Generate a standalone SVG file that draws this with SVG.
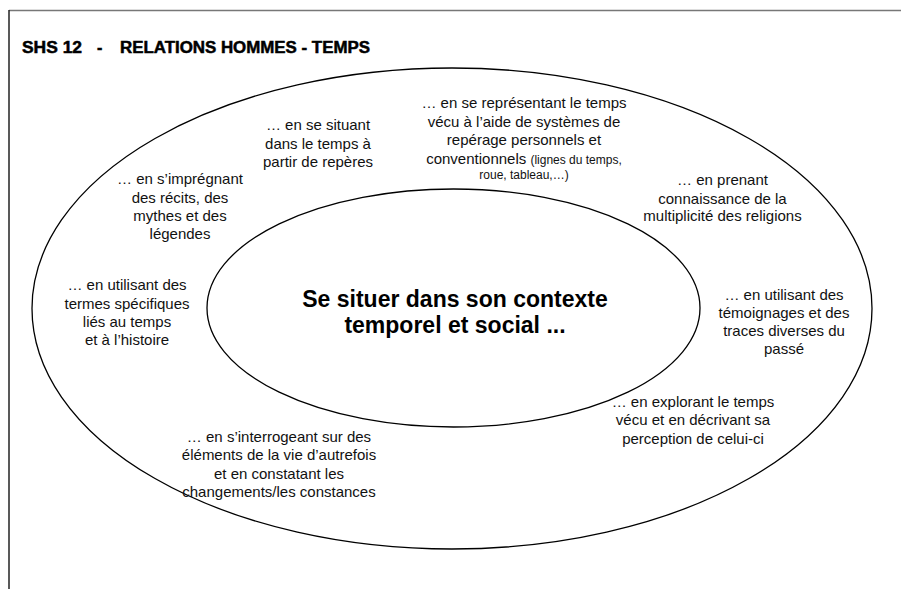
<svg xmlns="http://www.w3.org/2000/svg" width="901" height="589" viewBox="0 0 901 589">
<style>
.t{font-family:"Liberation Sans",Arial,sans-serif;font-size:15px;fill:#111;text-anchor:middle}
.s{font-size:12px}
.title{font-family:"Liberation Sans",Arial,sans-serif;font-size:16px;font-weight:bold;fill:#000;stroke:#000;stroke-width:0.5}
.center{font-family:"Liberation Sans",Arial,sans-serif;font-size:23px;font-weight:bold;fill:#000;text-anchor:middle}
.ell{fill:none;stroke:#000;stroke-width:1.3}
</style>
<rect width="901" height="589" fill="#fff"/>
<g id="frame">
<line x1="9" y1="10.5" x2="901" y2="10.5" stroke="#777" stroke-width="1.5"/>
<line x1="9" y1="10" x2="9" y2="589" stroke="#222" stroke-width="1.5"/>
</g>
<g id="title">
<text class="title" x="22" y="53" textLength="60" lengthAdjust="spacingAndGlyphs">SHS 12</text>
<text class="title" x="97" y="53">-</text>
<text class="title" x="120" y="53" textLength="250" lengthAdjust="spacingAndGlyphs">RELATIONS HOMMES - TEMPS</text>
</g>
<g id="connectors"></g>
<g id="outer">
<ellipse class="ell" cx="452" cy="308.5" rx="420" ry="240.5"/>
</g>
<g id="inner">
<ellipse class="ell" cx="453.5" cy="308" rx="246.5" ry="119"/>
<text class="center" x="455" y="307">Se situer dans son contexte</text>
<text class="center" x="455" y="333">temporel et social ...</text>
</g>
<g id="situant">
<text class="t" x="318" y="130">… en se situant</text>
<text class="t" x="318" y="148.5">dans le temps à</text>
<text class="t" x="318" y="167">partir de repères</text>
</g>
<g id="representant">
<text class="t" x="524" y="108">… en se représentant le temps</text>
<text class="t" x="524" y="126.5">vécu à l’aide de systèmes de</text>
<text class="t" x="524" y="145">repérage personnels et</text>
<text class="t" x="524" y="164">conventionnels <tspan class="s">(lignes du temps,</tspan></text>
<text class="t s" x="524" y="178.5">roue, tableau,…)</text>
</g>
<g id="impregnant">
<text class="t" x="180" y="184">… en s’imprégnant</text>
<text class="t" x="180" y="202.5">des récits, des</text>
<text class="t" x="180" y="220.5">mythes et des</text>
<text class="t" x="180" y="238.5">légendes</text>
</g>
<g id="termes">
<text class="t" x="127" y="290">… en utilisant des</text>
<text class="t" x="127" y="308.5">termes spécifiques</text>
<text class="t" x="127" y="326.5">liés au temps</text>
<text class="t" x="127" y="345">et à l’histoire</text>
</g>
<g id="religions">
<text class="t" x="722.5" y="185">… en prenant</text>
<text class="t" x="722.5" y="203.5">connaissance de la</text>
<text class="t" x="722.5" y="221">multiplicité des religions</text>
</g>
<g id="temoignages">
<text class="t" x="784" y="299.5">… en utilisant des</text>
<text class="t" x="784" y="317.5">témoignages et des</text>
<text class="t" x="784" y="336">traces diverses du</text>
<text class="t" x="784" y="353.5">passé</text>
</g>
<g id="autrefois">
<text class="t" x="279" y="441.5">… en s’interrogeant sur des</text>
<text class="t" x="279" y="460">éléments de la vie d’autrefois</text>
<text class="t" x="279" y="478.5">et en constatant les</text>
<text class="t" x="279" y="496.5">changements/les constances</text>
</g>
<g id="explorant">
<text class="t" x="693" y="406.5">… en explorant le temps</text>
<text class="t" x="693" y="425">vécu et en décrivant sa</text>
<text class="t" x="693" y="443.5">perception de celui-ci</text>
</g>
</svg>
